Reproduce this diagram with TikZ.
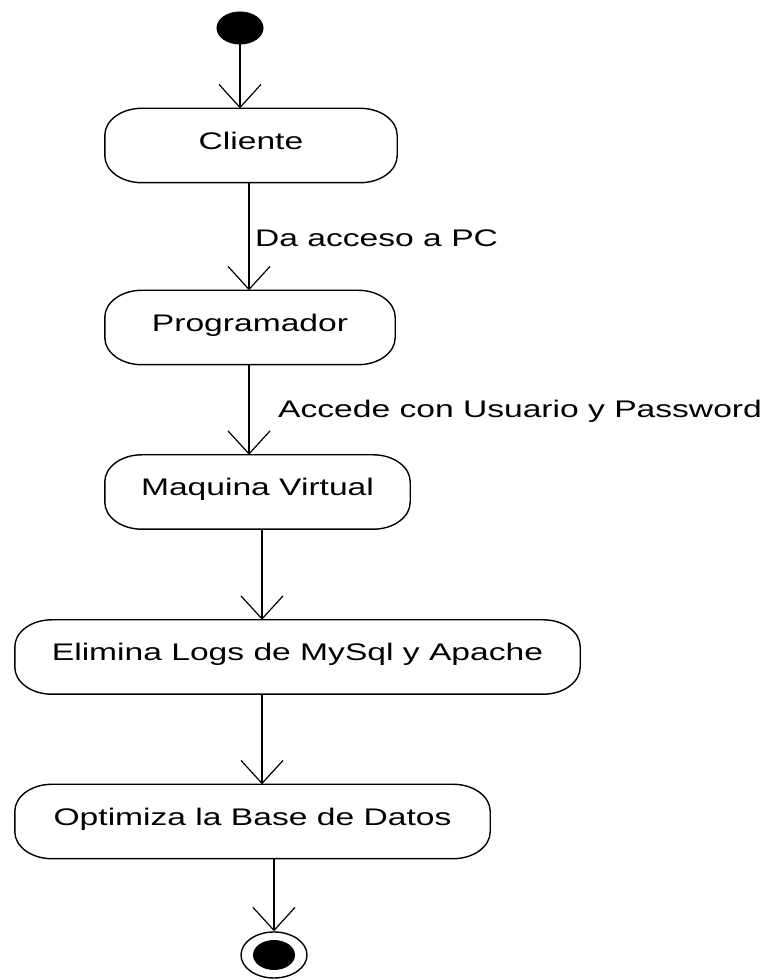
\documentclass[tikz,border=0pt]{standalone}
\usepackage{fontspec}
\setmainfont[FakeStretch=1.4]{Liberation Sans}
\usetikzlibrary{arrows.meta,shapes.geometric}
\tikzset{
  acttext/.style={inner sep=0pt, text height=16pt, text depth=8pt, font=\fontsize{24}{28}\selectfont},
  boxline/.style={line width=1.4pt, draw=black},
  flow/.style={line width=1.4pt, -{Straight Barb[length=23pt,width=42pt,line width=1.2pt]}},
  edgelabel/.style={inner sep=0pt, anchor=base west, font=\fontsize{24}{28}\selectfont}
}
\newcommand\actnode[5]{%
  \node[acttext, minimum width=#4pt, minimum height=74pt] (#1) at (#2,980-#3) {#5};
  \draw[boxline] ([xshift=37pt]#1.north west) -- ([xshift=-37pt]#1.north east)
    arc[start angle=90,end angle=0,x radius=37pt,y radius=27pt]
    -- ([yshift=27pt]#1.south east)
    arc[start angle=0,end angle=-90,x radius=37pt,y radius=27pt]
    -- ([xshift=37pt]#1.south west)
    arc[start angle=270,end angle=180,x radius=37pt,y radius=27pt]
    -- ([yshift=-27pt]#1.north west)
    arc[start angle=180,end angle=90,x radius=37pt,y radius=27pt] -- cycle;
}
\begin{document}
\begin{tikzpicture}[x=1pt,y=1pt]
\useasboundingbox (0,0) rectangle (775,980);
% start
\node[ellipse, fill=black, draw=black, line width=1pt, minimum width=46pt, minimum height=32pt, inner sep=0pt] (start) at (240,980-28) {};
% activities
\actnode{cliente}{251}{145.5}{292}{Cliente}
\actnode{prog}{250}{327.5}{290}{Programador}
\actnode{maq}{257.5}{492}{305}{Maquina Virtual}
\actnode{elim}{297.5}{657}{565}{Elimina Logs de MySql y Apache}
\actnode{opt}{252.5}{821.5}{475}{Optimiza la Base de Datos}
% end
\node[ellipse, draw=black, line width=1.4pt, fill=white, minimum width=66pt, minimum height=46pt, inner sep=0pt] (end) at (274,980-955) {};
\node[ellipse, fill=black, minimum width=42pt, minimum height=30pt, inner sep=0pt] (endin) at (end.center) {};
% connectors
\draw[flow] (start) -- (start |- cliente.north);
\draw[flow] ([xshift=-2pt]cliente.south) -- ([xshift=-2pt]cliente.south |- prog.north);
\draw[flow] ([xshift=-1pt]prog.south) -- ([xshift=-1pt]prog.south |- maq.north);
\draw[flow] ([xshift=4.5pt]maq.south) -- ([xshift=4.5pt]maq.south |- elim.north);
\draw[flow] ([xshift=-35.5pt]elim.south) -- ([xshift=-35.5pt]elim.south |- opt.north);
\draw[flow] (opt.south -| end.north) -- (end.north);
% labels
\node[edgelabel] (l1) at (255,980-247) {Da acceso a PC};
\node[edgelabel] (l2) at (278,980-418) {Accede con Usuario y Password};
\end{tikzpicture}
\end{document}
